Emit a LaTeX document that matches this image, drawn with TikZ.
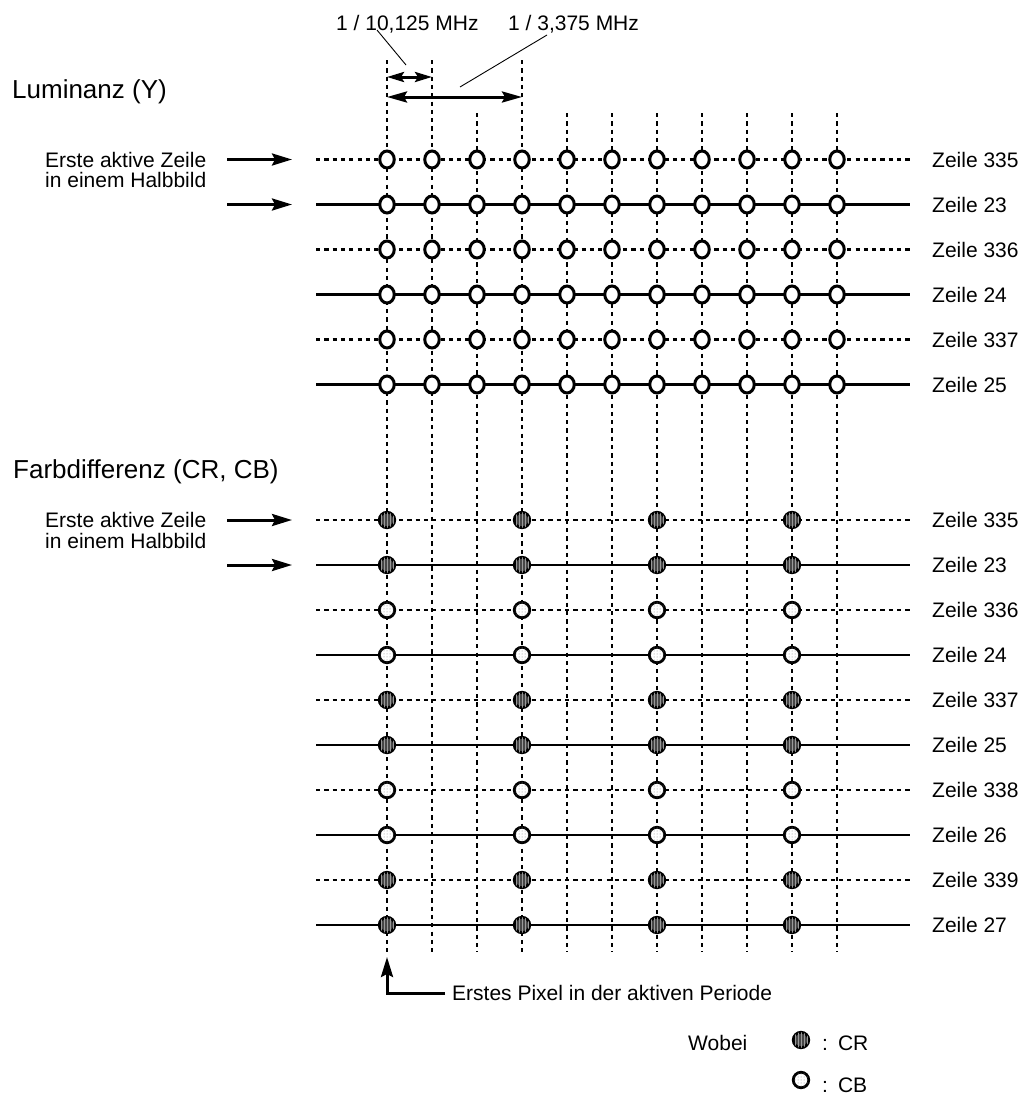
\documentclass[tikz,border=0pt]{standalone}
\usepackage{fontspec}
\setmainfont{Liberation Sans}
\usetikzlibrary{arrows.meta,shapes.geometric,patterns}
\begin{document}
\begin{tikzpicture}[x=1pt,y=-1pt,
  sgrid/.style={line width=2.8pt},
  dgrid/.style={line width=2.8pt, dash pattern=on 4.2pt off 4.1pt},
  lum/.style={draw, ellipse, fill=white, line width=3pt, minimum width=14.5pt, minimum height=17pt, inner sep=0pt},
  crdot/.style={draw, circle, line width=2.8pt, minimum size=15.5pt, inner sep=0pt, fill=black!72, postaction={pattern=vertical lines, pattern color=black!40}},
  cbdot/.style={draw, circle, line width=2.8pt, minimum size=15.5pt, inner sep=0pt, fill=white, postaction={pattern=dots, pattern color=black!45}},
  lbl/.style={font=\fontsize{21}{21}\selectfont, inner sep=0pt},
  head/.style={font=\fontsize{26}{26}\selectfont, inner sep=0pt},
  arr/.style={line width=3pt, -{Stealth[length=20pt,width=12pt,inset=3pt]}},
  dimsmall/.style={line width=3pt, {Stealth[length=17pt,width=10pt,inset=3pt]}-{Stealth[length=17pt,width=10pt,inset=3pt]}},
  dimbig/.style={line width=3pt, {Stealth[length=20pt,width=11pt,inset=3pt]}-{Stealth[length=20pt,width=11pt,inset=3pt]}},
  leader/.style={line width=0.9pt},
]
\useasboundingbox (0,0) rectangle (1022,1095);

% vertical dashed lines
\foreach \c in {1,2,4} {
  \coordinate (VT\c) at ({387+45*(\c-1)},60);
  \coordinate (VB\c) at ({387+45*(\c-1)},952);
  \draw[dgrid] (VT\c) -- (VB\c);
}
\foreach \c in {3,5,6,7,8,9,10,11} {
  \coordinate (VT\c) at ({387+45*(\c-1)},113);
  \coordinate (VB\c) at ({387+45*(\c-1)},952);
  \draw[dgrid] (VT\c) -- (VB\c);
}

% luminance rows
\foreach \i in {1,...,6} {
  \coordinate (LW\i) at (316,{159.5+45*(\i-1)});
  \coordinate (LE\i) at (910,{159.5+45*(\i-1)});
}
\foreach \i in {1,3,5} \draw[dgrid] (LW\i) -- (LE\i);
\foreach \i in {2,4,6} \draw[sgrid] (LW\i) -- (LE\i);

% chroma rows
\foreach \j in {1,...,10} {
  \coordinate (CW\j) at (316,{520+45*(\j-1)});
  \coordinate (CE\j) at (910,{520+45*(\j-1)});
}
\foreach \j in {1,3,5,7,9} \draw[dgrid] (CW\j) -- (CE\j);
\foreach \j in {2,4,6,8,10} \draw[sgrid] (CW\j) -- (CE\j);

% luminance samples
\foreach \i in {1,...,6} \foreach \c in {1,...,11}
  \node[lum] (Y-\i-\c) at ({387+45*(\c-1)},{159.5+45*(\i-1)}) {};

% chroma samples
\foreach \j/\s in {1/crdot,2/crdot,3/cbdot,4/cbdot,5/crdot,6/crdot,7/cbdot,8/cbdot,9/crdot,10/crdot}
  \foreach \c in {1,4,7,10}
    \node[\s] (C-\j-\c) at ({387+45*(\c-1)},{520+45*(\j-1)}) {};

% row labels
\foreach \n [count=\i] in {335,23,336,24,337,25}
  \node[lbl, anchor=west] (LZ\i) at (932,{159.5+45*(\i-1)}) {Zeile \n};
\foreach \n [count=\j] in {335,23,336,24,337,25,338,26,339,27}
  \node[lbl, anchor=west] (CZ\j) at (932,{520+45*(\j-1)}) {Zeile \n};

% headings
\node[head, anchor=base west] (hY) at (12,98) {Luminanz (Y)};
\node[head, anchor=base west] (hC) at (13,478) {Farbdifferenz (CR, CB)};

% first active line notes
\node[lbl, anchor=base west] (nY1) at (45,167) {Erste aktive Zeile};
\node[lbl, anchor=base west] (nY2) at (45,187.5) {in einem Halbbild};
\node[lbl, anchor=base west] (nC1) at (45,527.5) {Erste aktive Zeile};
\node[lbl, anchor=base west] (nC2) at (45,548) {in einem Halbbild};

\coordinate (aY1s) at (227,159.5); \coordinate (aY1e) at (292,159.5);
\coordinate (aY2s) at (227,204.5); \coordinate (aY2e) at (292,204.5);
\coordinate (aC1s) at (227,520);   \coordinate (aC1e) at (292,520);
\coordinate (aC2s) at (227,565);   \coordinate (aC2e) at (292,565);
\draw[arr] (aY1s) -- (aY1e);
\draw[arr] (aY2s) -- (aY2e);
\draw[arr] (aC1s) -- (aC1e);
\draw[arr] (aC2s) -- (aC2e);

% period dimensions
\node[lbl, anchor=base west] (f1) at (336,30) {1 / 10,125 MHz};
\node[lbl, anchor=base west] (f2) at (508,30) {1 / 3,375 MHz};
\coordinate (d1a) at (387,77); \coordinate (d1b) at (432,77);
\coordinate (d2a) at (387,97); \coordinate (d2b) at (522,97);
\draw[dimsmall] (d1a) -- (d1b);
\draw[dimbig] (d2a) -- (d2b);
\coordinate (l1s) at (377,30); \coordinate (l1e) at (406,65);
\coordinate (l2s) at (547,35); \coordinate (l2e) at (460,87);
\draw[leader] (l1s) -- (l1e);
\draw[leader] (l2s) -- (l2e);

% first pixel
\node[lbl, anchor=west] (pix) at (452,993) {Erstes Pixel in der aktiven Periode};
\coordinate (pixtip) at (387,957);
\coordinate (pixstart) at (445,993);
\draw[arr] (pixstart) -| (pixtip);

% legend
\node[lbl, anchor=base west] (wob) at (688,1050) {Wobei};
\node[crdot] (legCR) at (801,1040) {};
\node[cbdot] (legCB) at (801,1080) {};
\node[lbl, anchor=base west] (tCR) at (822,1050) {:\hspace{10pt}CR};
\node[lbl, anchor=base west] (tCB) at (822,1092) {:\hspace{10pt}CB};
\end{tikzpicture}
\end{document}
